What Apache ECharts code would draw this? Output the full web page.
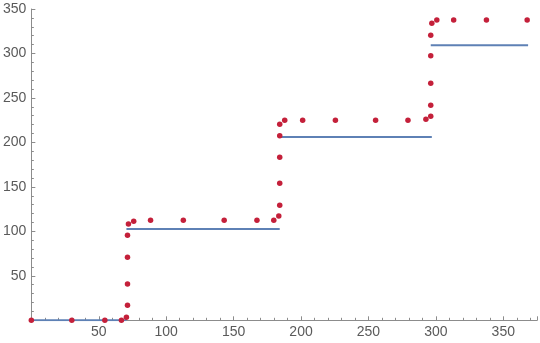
<!DOCTYPE html>
<html>
<head>
<meta charset="utf-8">
<script src="https://cdn.jsdelivr.net/npm/echarts@6/dist/echarts.min.js"></script>
<style>html,body{margin:0;padding:0;background:#fff}#c{width:540px;height:343px}</style>
</head>
<body>
<div id="c"></div>
<script>
// red data points
var pointsX = [0, 30, 54.5, 66.8, 70.5, 71.3, 71.3, 71.3, 71.3, 72, 75.9, 88.4, 112.7, 143, 167.3, 179.8,
  183.5, 184.2, 184.2, 184.2, 184.2, 184.2, 187.9, 201.2, 225.5, 255.3, 279.3, 292.6,
  296.2, 296.2, 296.2, 296.2, 296.2, 297, 300.7, 313.2, 337.5, 367.7];
var pointsY = [0, 0, 0, 0, 3.4, 16.9, 40.8, 70.9, 95.6, 108.3, 111.4, 112.5, 112.5, 112.5, 112.5, 112.5,
  117.3, 129.4, 154.1, 183.4, 207.6, 220.5, 225, 225, 225, 225, 225, 226.1,
  229.5, 241.8, 266.6, 297.3, 320.6, 334.1, 337.5, 337.5, 337.5, 337.5];
// blue step segments
var stepStart = [0, 70.5, 184.2, 296.2];
var stepEnd = [70.5, 184.2, 297, 368.4];
var stepLevel = [0, 102.7, 206.2, 309.3];

var axisColor = '#8c8c8c';
var labelColor = '#5a5a5a';
var font = 'Liberation Sans, Arial, sans-serif';

var series = stepLevel.map(function (lv, i) {
  return {
    type: 'line', xAxisIndex: 0, yAxisIndex: 0,
    data: [[stepStart[i], lv], [stepEnd[i], lv]],
    showSymbol: false, symbol: 'none', animation: false,
    lineStyle: { color: '#5e81b5', width: 2 }, z: 2
  };
});
series.push({
  type: 'scatter', xAxisIndex: 0, yAxisIndex: 0,
  data: pointsX.map(function (x, i) { return [x, pointsY[i]]; }),
  symbolSize: 5.5, clip: false, animation: false,
  itemStyle: { color: '#c4203a', opacity: 1 }, z: 3
});

var chart = echarts.init(document.getElementById('c'), null, { renderer: 'canvas' });
chart.setOption({
  animation: false,
  grid: { left: 29.3, right: 0, top: 9, bottom: 22.7, containLabel: false },
  xAxis: [{
    type: 'value', min: 0, max: 375, interval: 50,
    axisLine: { show: true, onZero: true, lineStyle: { color: axisColor, width: 1 } },
    axisTick: { show: true, inside: true, length: 4, lineStyle: { color: axisColor } },
    axisLabel: { color: labelColor, fontSize: 14, fontFamily: font, margin: 5, showMinLabel: false,
      formatter: function (v) { return (v === 0 || v % 50 !== 0) ? '' : String(v); } },
    splitLine: { show: false }
  }, {
    type: 'value', min: 0, max: 375, interval: 10, position: 'bottom',
    axisLine: { show: false },
    axisTick: { show: true, inside: true, length: 2.5, lineStyle: { color: axisColor } },
    axisLabel: { show: false },
    splitLine: { show: false }
  }],
  yAxis: {
    type: 'value', min: 0, max: 350, interval: 50,
    axisLine: { show: true, lineStyle: { color: axisColor, width: 1 } },
    axisTick: { show: true, inside: true, length: 4, lineStyle: { color: axisColor } },
    minorTick: { show: true, splitNumber: 5, length: 2.5, lineStyle: { color: axisColor } },
    axisLabel: { color: labelColor, fontSize: 14, fontFamily: font, margin: 5, showMinLabel: false },
    splitLine: { show: false }, minorSplitLine: { show: false }
  },
  series: series
});
</script>
</body>
</html>
